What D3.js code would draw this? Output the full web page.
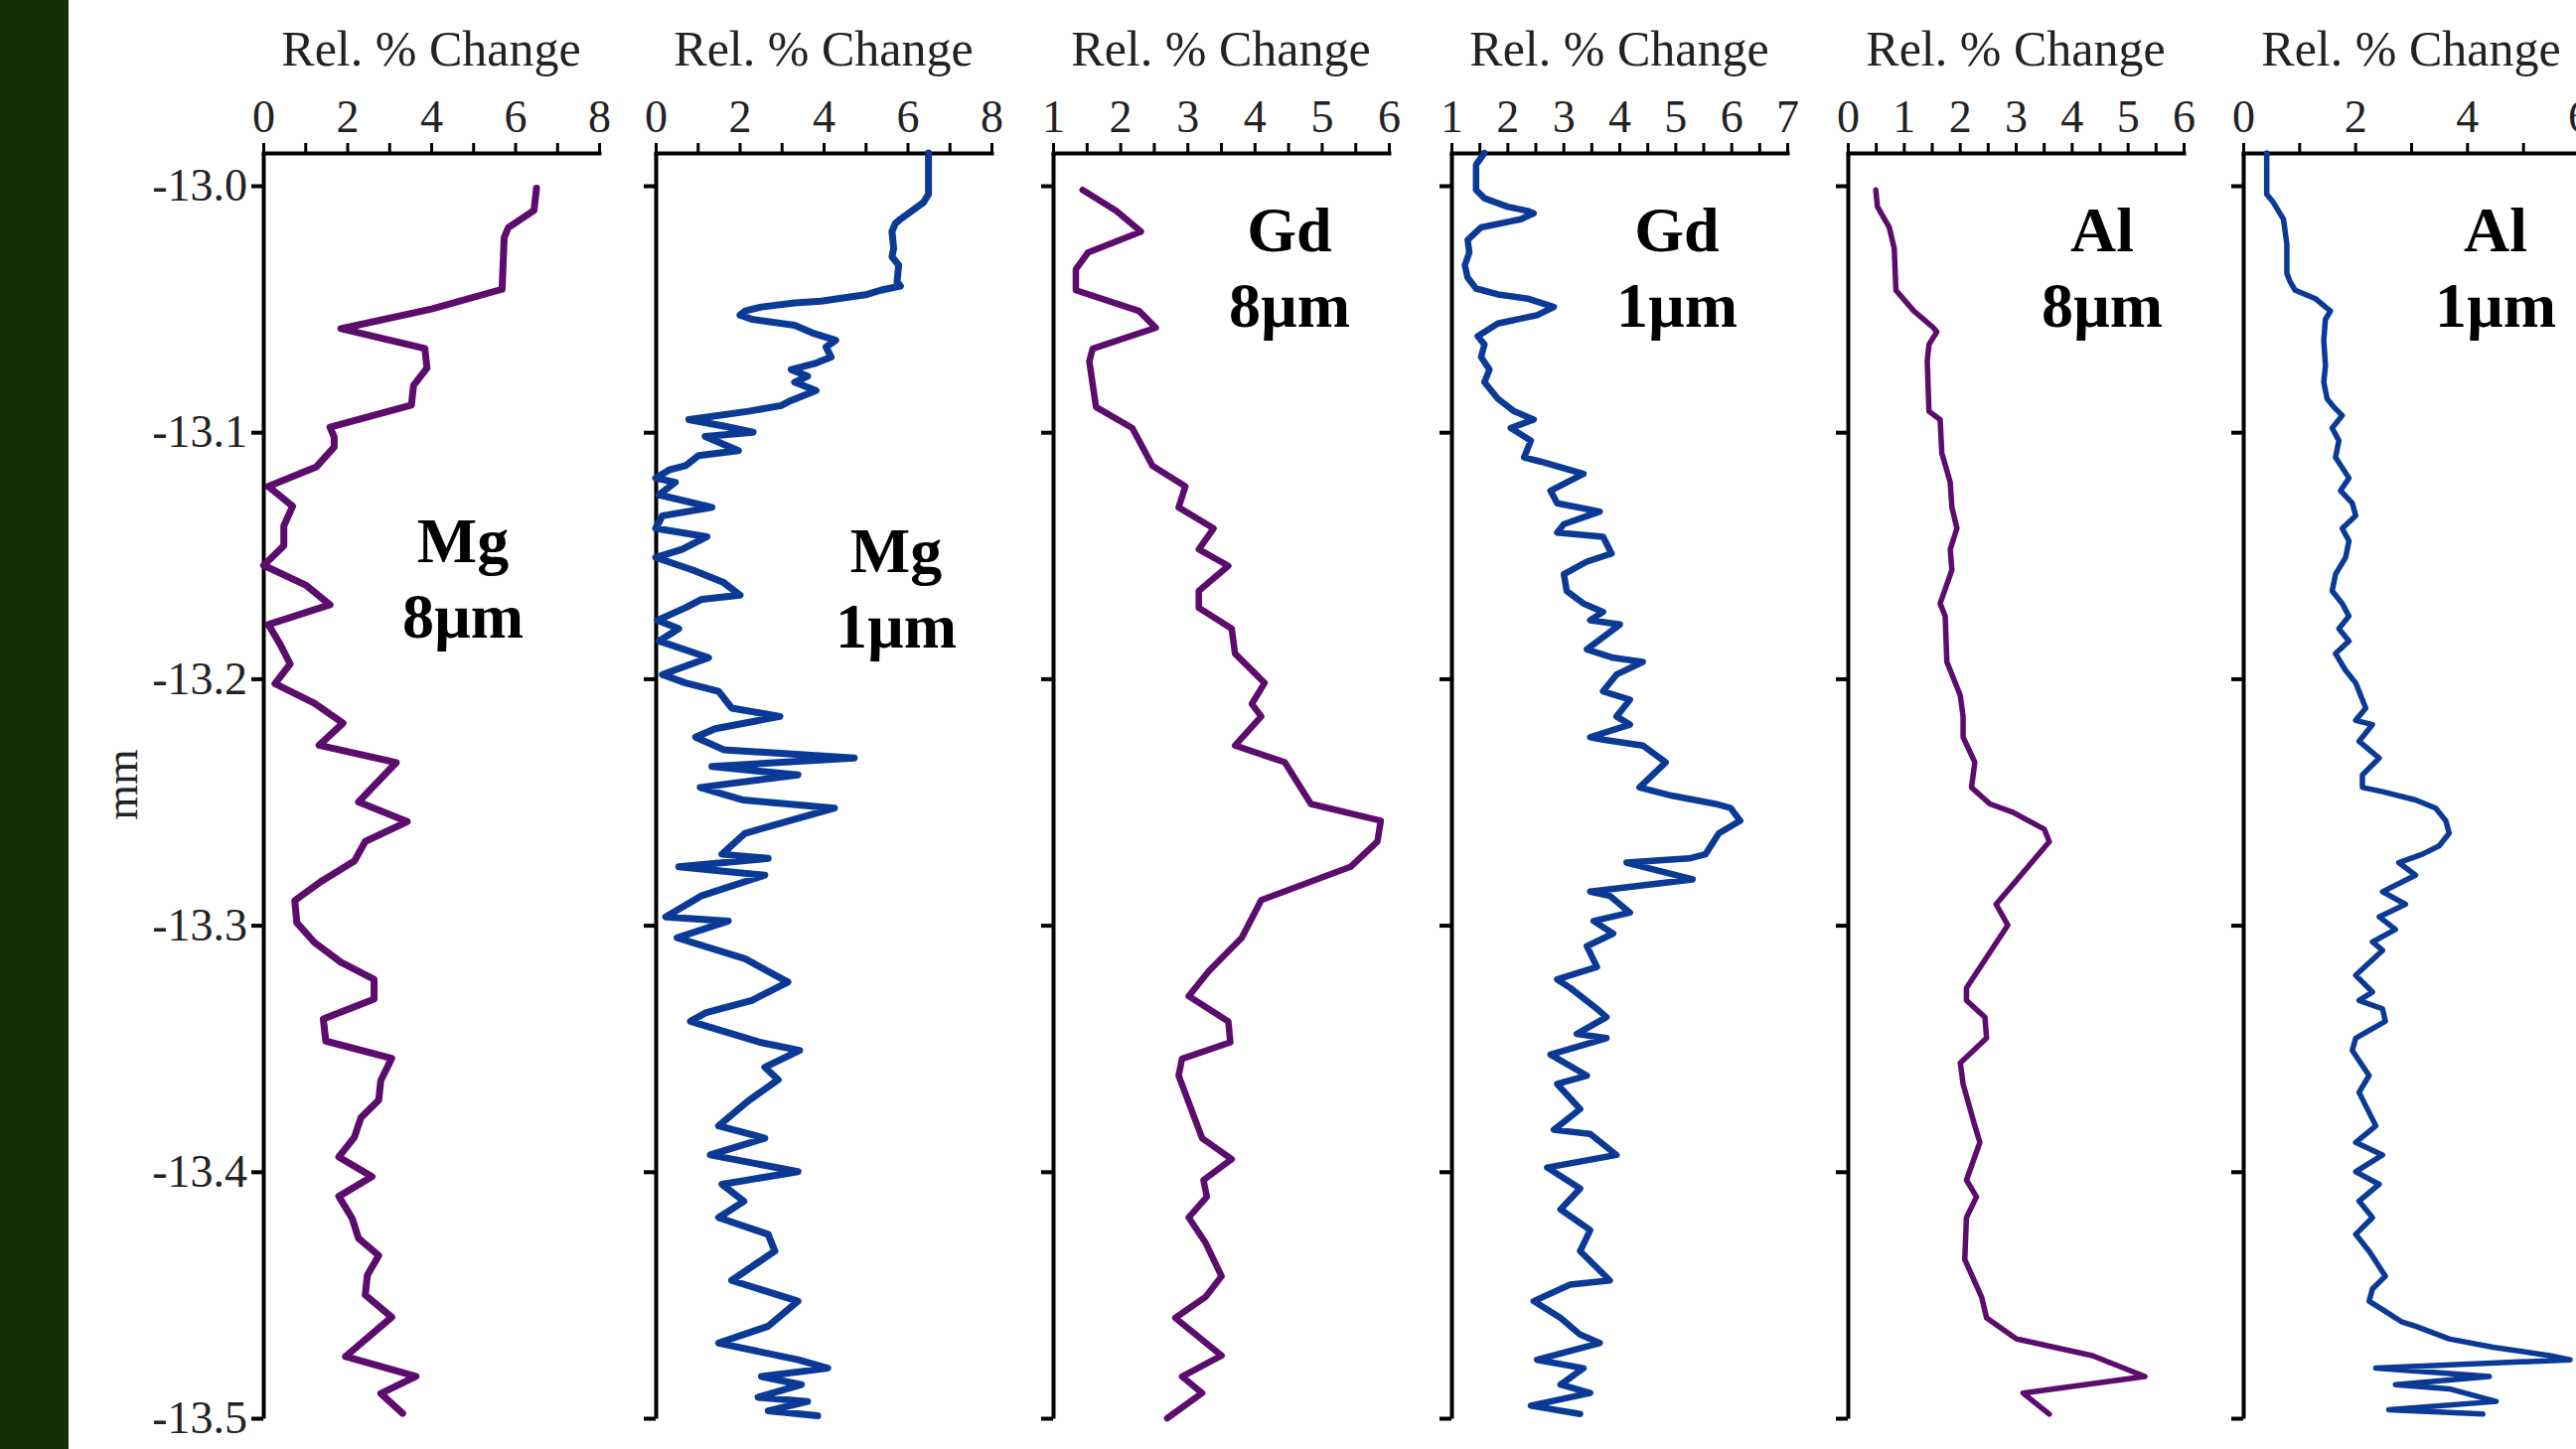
<!DOCTYPE html>
<html><head><meta charset="utf-8">
<script src="https://cdn.jsdelivr.net/npm/d3@7"></script>
<style>html,body{margin:0;padding:0;background:#fff;overflow:hidden}</style>
</head><body>
<svg id="chart" width="2593" height="1459"></svg>
<script>
// ---------- DATA: [depth (mm), relative % change] ----------
const mg8 = [[-13.001,6.51],[-13.010,6.45],[-13.017,5.84],[-13.021,5.74],[-13.042,5.69],[-13.050,4.01],[-13.058,1.85],[-13.066,3.85],[-13.074,3.90],[-13.081,3.58],[-13.089,3.53],[-13.098,1.59],[-13.102,1.69],[-13.106,1.69],[-13.114,1.27],[-13.122,0.12],[-13.130,0.70],[-13.138,0.49],[-13.146,0.49],[-13.154,0.01],[-13.162,1.01],[-13.170,1.59],[-13.178,0.12],[-13.186,0.40],[-13.194,0.64],[-13.202,0.28],[-13.210,1.22],[-13.218,1.90],[-13.227,1.33],[-13.234,3.17],[-13.250,2.27],[-13.258,3.43],[-13.266,2.43],[-13.274,2.17],[-13.282,1.40],[-13.290,0.75],[-13.299,0.80],[-13.307,1.22],[-13.315,1.85],[-13.322,2.64],[-13.330,2.64],[-13.338,1.43],[-13.347,1.49],[-13.354,3.06],[-13.363,2.80],[-13.371,2.75],[-13.378,2.33],[-13.386,2.17],[-13.394,1.80],[-13.402,2.59],[-13.410,1.80],[-13.419,2.12],[-13.427,2.27],[-13.434,2.75],[-13.442,2.48],[-13.450,2.43],[-13.459,3.06],[-13.475,1.96],[-13.483,3.64],[-13.490,2.80],[-13.498,3.32]];

const mg1 = [[-12.9867,6.50],[-13.0034,6.50],[-13.0068,6.38],[-13.0136,5.83],[-13.0153,5.71],[-13.0186,5.63],[-13.0254,5.67],[-13.0288,5.63],[-13.0322,5.79],[-13.0390,5.75],[-13.0407,5.83],[-13.0424,5.36],[-13.0441,5.04],[-13.0468,3.94],[-13.0475,3.31],[-13.0492,2.52],[-13.0508,2.13],[-13.0525,2.01],[-13.0542,2.29],[-13.0566,3.31],[-13.0600,3.78],[-13.0627,4.29],[-13.0654,4.06],[-13.0695,4.18],[-13.0722,3.78],[-13.0746,3.23],[-13.0773,3.62],[-13.0797,3.31],[-13.0831,3.82],[-13.0871,3.23],[-13.0892,2.99],[-13.0915,2.21],[-13.0949,0.79],[-13.0976,1.65],[-13.1000,2.32],[-13.1017,1.18],[-13.1075,1.97],[-13.1095,1.02],[-13.1136,0.71],[-13.1153,0.32],[-13.1186,0.00],[-13.1203,0.47],[-13.1254,0.08],[-13.1305,1.34],[-13.1339,0.16],[-13.1390,0.00],[-13.1424,1.22],[-13.1475,0.63],[-13.1508,0.00],[-13.1560,0.90],[-13.1610,1.62],[-13.1661,2.01],[-13.1678,1.10],[-13.1712,0.71],[-13.1763,0.04],[-13.1797,0.55],[-13.1847,0.08],[-13.1915,1.26],[-13.1983,0.16],[-13.2017,0.71],[-13.2051,1.50],[-13.2119,1.81],[-13.2153,2.96],[-13.2203,1.42],[-13.2237,0.95],[-13.2288,1.62],[-13.2322,4.73],[-13.2356,1.34],[-13.2390,3.39],[-13.2441,1.06],[-13.2492,2.09],[-13.2525,4.26],[-13.2627,2.13],[-13.2712,1.58],[-13.2729,2.68],[-13.2763,0.55],[-13.2797,2.60],[-13.2880,1.10],[-13.2966,0.24],[-13.2983,1.73],[-13.3051,0.51],[-13.3136,2.13],[-13.3231,3.15],[-13.3305,2.29],[-13.3356,1.18],[-13.3390,0.83],[-13.3475,2.48],[-13.3508,3.43],[-13.3576,2.60],[-13.3627,2.92],[-13.3712,2.21],[-13.3814,1.50],[-13.3864,2.60],[-13.3932,1.30],[-13.4000,3.39],[-13.4051,1.58],[-13.4120,2.10],[-13.4186,1.50],[-13.4254,2.68],[-13.4322,2.84],[-13.4441,1.81],[-13.4525,3.39],[-13.4627,2.68],[-13.4695,1.50],[-13.4763,3.39],[-13.4797,4.10],[-13.4831,2.52],[-13.4864,3.47],[-13.4915,2.44],[-13.4932,3.62],[-13.4970,2.68],[-13.4990,3.86]];

const gd8 = [[-13.0017,1.44],[-13.0102,1.94],[-13.0186,2.31],[-13.0271,1.52],[-13.0339,1.34],[-13.0424,1.34],[-13.0508,2.28],[-13.0576,2.53],[-13.0661,1.59],[-13.0712,1.54],[-13.0898,1.64],[-13.0983,2.18],[-13.1136,2.48],[-13.1220,2.97],[-13.1305,2.87],[-13.1390,3.39],[-13.1475,3.17],[-13.1542,3.61],[-13.1644,3.17],[-13.1712,3.17],[-13.1797,3.66],[-13.1898,3.71],[-13.2017,4.15],[-13.2102,3.96],[-13.2153,4.10],[-13.2271,3.71],[-13.2339,4.45],[-13.2508,4.84],[-13.2576,5.88],[-13.2661,5.83],[-13.2763,5.43],[-13.2898,4.10],[-13.3051,3.81],[-13.3186,3.32],[-13.3288,3.02],[-13.3390,3.61],[-13.3475,3.64],[-13.3542,2.92],[-13.3610,2.87],[-13.3864,3.22],[-13.3949,3.66],[-13.4034,3.24],[-13.4102,3.29],[-13.4186,3.02],[-13.4288,3.27],[-13.4424,3.51],[-13.4508,3.27],[-13.4593,2.82],[-13.4746,3.51],[-13.4831,2.92],[-13.4898,3.22],[-13.5000,2.70]];

const gd1 = [[-12.9867,1.59],[-12.9915,1.44],[-13.0017,1.44],[-13.0051,1.59],[-13.0085,2.00],[-13.0102,2.36],[-13.0112,2.47],[-13.0136,2.24],[-13.0169,1.53],[-13.0220,1.29],[-13.0271,1.32],[-13.0322,1.24],[-13.0373,1.29],[-13.0417,1.44],[-13.0441,1.83],[-13.0458,2.36],[-13.0492,2.83],[-13.0525,2.53],[-13.0559,1.83],[-13.0610,1.47],[-13.0644,1.59],[-13.0695,1.53],[-13.0746,1.68],[-13.0797,1.59],[-13.0864,1.83],[-13.0915,2.12],[-13.0949,2.47],[-13.0983,2.06],[-13.1034,2.42],[-13.1102,2.30],[-13.1119,2.59],[-13.1169,3.36],[-13.1237,2.77],[-13.1288,2.89],[-13.1322,3.65],[-13.1373,3.01],[-13.1407,2.89],[-13.1424,3.71],[-13.1492,3.86],[-13.1525,3.42],[-13.1576,3.01],[-13.1644,3.06],[-13.1695,3.36],[-13.1729,3.71],[-13.1763,3.48],[-13.1780,4.01],[-13.1881,3.42],[-13.1915,3.89],[-13.1932,4.42],[-13.1983,3.95],[-13.2051,3.71],[-13.2085,4.19],[-13.2153,3.95],[-13.2186,4.19],[-13.2237,3.48],[-13.2247,3.71],[-13.2271,4.42],[-13.2339,4.83],[-13.2441,4.36],[-13.2475,4.95],[-13.2508,5.72],[-13.2525,5.99],[-13.2576,6.16],[-13.2627,5.78],[-13.2712,5.54],[-13.2729,5.25],[-13.2746,4.13],[-13.2814,5.31],[-13.2864,3.48],[-13.2881,3.83],[-13.2949,4.19],[-13.2983,3.54],[-13.3034,3.89],[-13.3085,3.42],[-13.3169,3.60],[-13.3220,2.89],[-13.3254,3.12],[-13.3339,3.60],[-13.3373,3.77],[-13.3441,3.24],[-13.3458,3.77],[-13.3525,2.77],[-13.3610,3.42],[-13.3644,2.89],[-13.3746,3.30],[-13.3830,2.83],[-13.3847,3.48],[-13.3932,3.95],[-13.3983,2.71],[-13.4068,3.30],[-13.4153,2.95],[-13.4237,3.48],[-13.4322,3.30],[-13.4441,3.83],[-13.4458,3.12],[-13.4525,2.47],[-13.4593,2.95],[-13.4661,3.30],[-13.4695,3.65],[-13.4763,2.53],[-13.4797,3.36],[-13.4864,2.95],[-13.4898,3.48],[-13.4949,2.42],[-13.4983,3.30]];

const al8 = [[-13.0017,0.50],[-13.0085,0.53],[-13.0169,0.74],[-13.0254,0.83],[-13.0424,0.86],[-13.0508,1.18],[-13.0576,1.53],[-13.0593,1.59],[-13.0644,1.45],[-13.0712,1.42],[-13.0915,1.45],[-13.0949,1.65],[-13.1085,1.68],[-13.1203,1.83],[-13.1305,1.86],[-13.1390,1.95],[-13.1475,1.83],[-13.1559,1.86],[-13.1695,1.65],[-13.1746,1.74],[-13.1932,1.77],[-13.2068,2.01],[-13.2153,2.06],[-13.2237,2.06],[-13.2339,2.27],[-13.2441,2.21],[-13.2508,2.54],[-13.2542,2.95],[-13.2610,3.51],[-13.2661,3.60],[-13.2915,2.65],[-13.3000,2.86],[-13.3254,2.12],[-13.3305,2.12],[-13.3373,2.45],[-13.3458,2.48],[-13.3559,2.01],[-13.3644,2.06],[-13.3814,2.27],[-13.3881,2.36],[-13.4034,2.12],[-13.4102,2.30],[-13.4186,2.12],[-13.4356,2.09],[-13.4508,2.39],[-13.4593,2.48],[-13.4678,3.01],[-13.4746,4.37],[-13.4831,5.31],[-13.4898,3.13],[-13.4983,3.60]];

const al1 = [[-12.9867,0.42],[-13.0034,0.42],[-13.0068,0.54],[-13.0102,0.63],[-13.0136,0.72],[-13.0186,0.75],[-13.0237,0.78],[-13.0356,0.78],[-13.0390,0.84],[-13.0424,0.93],[-13.0441,1.11],[-13.0458,1.29],[-13.0492,1.47],[-13.0508,1.56],[-13.0542,1.47],[-13.0627,1.44],[-13.0729,1.47],[-13.0797,1.44],[-13.0864,1.50],[-13.0898,1.62],[-13.0932,1.77],[-13.0983,1.59],[-13.1034,1.71],[-13.1102,1.65],[-13.1186,1.89],[-13.1237,1.74],[-13.1288,1.95],[-13.1339,2.01],[-13.1390,1.77],[-13.1441,1.89],[-13.1508,1.83],[-13.1576,1.65],[-13.1644,1.59],[-13.1695,1.77],[-13.1746,1.89],[-13.1797,1.71],[-13.1847,1.89],[-13.1898,1.65],[-13.1966,1.83],[-13.2017,2.01],[-13.2119,2.19],[-13.2169,2.01],[-13.2186,2.31],[-13.2254,2.07],[-13.2322,2.43],[-13.2390,2.13],[-13.2441,2.13],[-13.2458,2.49],[-13.2492,3.08],[-13.2525,3.44],[-13.2576,3.62],[-13.2627,3.68],[-13.2678,3.50],[-13.2712,3.20],[-13.2746,2.78],[-13.2797,3.08],[-13.2864,2.49],[-13.2915,2.90],[-13.2966,2.43],[-13.3017,2.72],[-13.3068,2.31],[-13.3102,2.49],[-13.3203,2.01],[-13.3271,2.31],[-13.3305,2.07],[-13.3339,2.49],[-13.3390,2.54],[-13.3458,2.01],[-13.3508,1.95],[-13.3610,2.25],[-13.3678,2.07],[-13.3814,2.37],[-13.3881,2.01],[-13.3932,2.49],[-13.4000,2.01],[-13.4051,2.43],[-13.4119,2.07],[-13.4186,2.31],[-13.4254,2.01],[-13.4322,2.25],[-13.4424,2.54],[-13.4475,2.31],[-13.4525,2.25],[-13.4559,2.49],[-13.4610,2.84],[-13.4627,3.08],[-13.4678,3.68],[-13.4712,4.46],[-13.4746,5.48],[-13.4763,5.84],[-13.4797,2.37],[-13.4831,4.40],[-13.4864,2.72],[-13.4881,3.68],[-13.4932,4.52],[-13.4966,2.60],[-13.4983,4.28]];

const seriesData = [mg8, mg1, gd8, gd1, al8, al1];
const elementNames = ["Mg", "Mg", "Gd", "Gd", "Al", "Al"];
const resolutions = ["8µm", "1µm", "8µm", "1µm", "8µm", "1µm"];
const xDomains = [[0, 8], [0, 8], [1, 6], [1, 7], [0, 6], [0, 6]];
const xTickLabels = [[0,2,4,6,8],[0,2,4,6,8],[1,2,3,4,5,6],[1,2,3,4,5,6,7],[0,1,2,3,4,5,6],[0,2,4,6]];
const xMinorSteps = [1, 1, 0.5, 0.5, 0.5, 1];
const yTickValues = [-13.0, -13.1, -13.2, -13.3, -13.4, -13.5];
const yDomain = [-12.9867, -13.5];
const xTitle = "Rel. % Change";
const yTitle = "mm";

// ---------- LAYOUT / STYLE ----------
const W = 2593, H = 1459;
const panelLefts = [265, 660, 1060, 1461, 1860, 2258];
const panelW = 338;
const topY = 154, bottomY = 1428;
const purple = "#5c0c6c", blue = "#0a3a96";
const colors = [purple, blue, purple, blue, purple, blue];
const widths = [7, 7, 6.5, 6.5, 5.5, 5.5];
const labelPos = [[466, 566], [902, 576], [1298, 253], [1688, 253], [2116, 253], [2512, 253]];
const FONT = "'Liberation Serif', 'DejaVu Serif', serif";

const svg = d3.select("#chart");
svg.append("rect").attr("width", W).attr("height", H).attr("fill", "#fff");
svg.append("rect").attr("x", 0).attr("y", 0).attr("width", 69).attr("height", H).attr("fill", "#13300b");

const y = d3.scaleLinear().domain(yDomain).range([topY, bottomY]);

seriesData.forEach((data, i) => {
  const g = svg.append("g").attr("transform", `translate(${panelLefts[i]},0)`);
  const [d0, d1] = xDomains[i];
  const x = d3.scaleLinear().domain([d0, d1]).range([0, panelW]);
  const ticks = d3.range(d0, d1 + 1e-9, xMinorSteps[i]);
  const labels = new Set(xTickLabels[i]);

  // top x axis
  const xa = g.append("g").attr("transform", `translate(0,${topY})`)
    .call(d3.axisTop(x).tickValues(ticks).tickSize(10).tickSizeOuter(0).tickPadding(11)
      .tickFormat(v => labels.has(Math.round(v * 100) / 100) ? String(v) : ""));
  xa.select(".domain").attr("stroke", "#000").attr("stroke-width", 4).attr("stroke-linecap", "square");
  xa.selectAll(".tick line").attr("stroke", "#000").attr("stroke-width", 3);
  xa.selectAll(".tick text").attr("font-family", FONT).attr("font-size", 46).attr("fill", "#222");

  // left y axis
  const ya = g.append("g")
    .call(d3.axisLeft(y).tickValues(yTickValues).tickSize(12).tickSizeOuter(0).tickPadding(4)
      .tickFormat(i === 0 ? (v => v.toFixed(1)) : (() => "")));
  ya.select(".domain").attr("stroke", "#000").attr("stroke-width", 4);
  ya.selectAll(".tick line").attr("stroke", "#000").attr("stroke-width", 4);
  ya.selectAll(".tick text").attr("font-family", FONT).attr("font-size", 46).attr("fill", "#222");

  // x title
  g.append("text").attr("x", panelW / 2).attr("y", 66).attr("text-anchor", "middle")
    .attr("font-family", FONT).attr("font-size", 50).attr("fill", "#222").text(xTitle);

  // line
  const line = d3.line().x(d => x(d[1])).y(d => y(d[0])).curve(d3.curveLinear);
  g.append("path").datum(data).attr("d", line).attr("fill", "none")
    .attr("stroke", colors[i]).attr("stroke-width", widths[i])
    .attr("stroke-linejoin", "round").attr("stroke-linecap", "round");

  // panel label
  const [lx, ly] = labelPos[i];
  const t = svg.append("text").attr("text-anchor", "middle").attr("font-family", FONT)
    .attr("font-weight", "bold").attr("font-size", 64).attr("fill", "#000");
  t.append("tspan").attr("x", lx).attr("y", ly).text(elementNames[i]);
  t.append("tspan").attr("x", lx).attr("y", ly + 76).text(resolutions[i]);
});

// y title
svg.append("text").attr("transform", "translate(138,790) rotate(-90)").attr("text-anchor", "middle")
  .attr("font-family", FONT).attr("font-size", 46).attr("fill", "#222").text(yTitle);
</script>
</body></html>
